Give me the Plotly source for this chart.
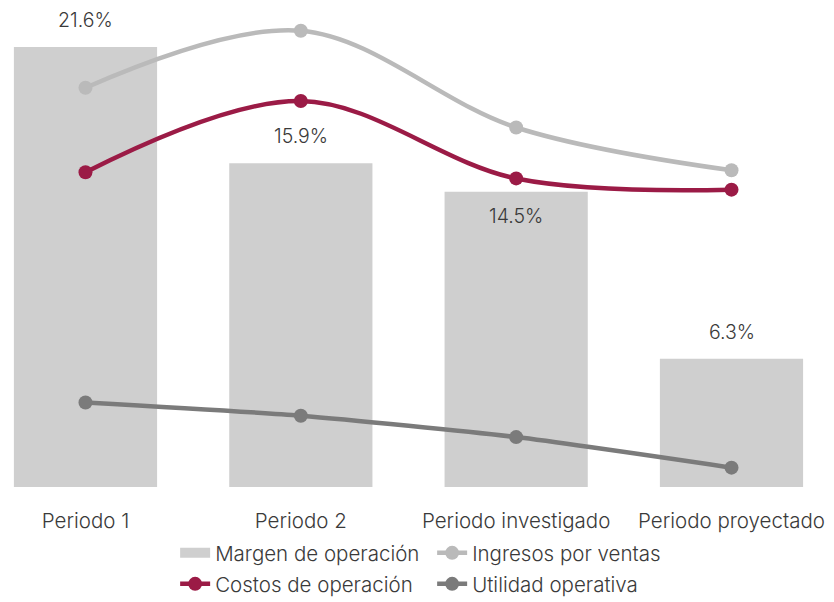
import plotly.graph_objects as go

categorias = ["Periodo 1", "Periodo 2", "Periodo investigado", "Periodo proyectado"]
margen = [21.6, 15.9, 14.5, 6.3]
ingresos = [19.6, 22.4, 17.65, 15.55]
costos = [15.45, 18.95, 15.15, 14.6]
utilidad = [4.15, 3.5, 2.45, 0.95]
etiquetas = ["21.6%", "15.9%", "14.5%", "6.3%"]
posicion_etiqueta = ["arriba", "arriba", "dentro", "arriba"]

FAM = "Inter, Lato, sans-serif"
TXT = "#3a3a3a"
FONT = dict(family=FAM, size=20.5, color=TXT, weight=300)

fig = go.Figure()
fig.add_trace(go.Bar(
    x=categorias, y=margen, name="Margen de operación",
    marker=dict(color="#cfcfcf", line=dict(width=0)), width=0.665,
    showlegend=False, hoverinfo="skip",
))
# legend-only entry to show a wide grey block for the bars
fig.add_trace(go.Scatter(
    x=[None], y=[None], name="Margen de operación", mode="lines",
    line=dict(color="#cfcfcf", width=14), legend="legend",
))
fig.add_trace(go.Scatter(
    x=categorias, y=ingresos, name="Ingresos por ventas", mode="lines+markers",
    line=dict(color="#bababa", width=4.5, shape="spline", smoothing=1.0),
    marker=dict(size=14, color="#bababa"), legend="legend",
))
fig.add_trace(go.Scatter(
    x=categorias, y=costos, name="Costos de operación", mode="lines+markers",
    line=dict(color="#9b1b46", width=4.5, shape="spline", smoothing=1.0),
    marker=dict(size=14, color="#9b1b46"), legend="legend2",
))
fig.add_trace(go.Scatter(
    x=categorias, y=utilidad, name="Utilidad operativa", mode="lines+markers",
    line=dict(color="#7b7b7b", width=4.5, shape="spline", smoothing=0.6),
    marker=dict(size=14, color="#7b7b7b"), legend="legend2",
))

for c, v, t, p in zip(categorias, margen, etiquetas, posicion_etiqueta):
    fig.add_annotation(x=c, y=v, text=t, showarrow=False,
                       yshift=27 if p == "arriba" else -24,
                       font=dict(family=FAM, size=19.5, color=TXT, weight=300))

leg_common = dict(orientation="h", xanchor="left", yanchor="middle", yref="container",
                  font=dict(family=FAM, size=20.5, color=TXT, weight=300),
                  entrywidth=212, entrywidthmode="pixels", bgcolor="rgba(0,0,0,0)",
                  itemwidth=30, tracegroupgap=0)

fig.update_layout(
    width=834, height=602,
    margin=dict(l=0, r=0, t=0, b=115),
    plot_bgcolor="white", paper_bgcolor="white",
    font=FONT,
    showlegend=True,
    legend=dict(x=0.21, y=1 - 553 / 602, **leg_common),
    legend2=dict(x=0.21, y=1 - 584 / 602, **leg_common),
    xaxis=dict(range=[-0.397, 3.476], showgrid=False, zeroline=False, showline=False,
               ticks="", tickfont=dict(family=FAM, size=20.5, color=TXT, weight=300),
               ticklabelstandoff=19),
    yaxis=dict(range=[0, 23.91], visible=False, showgrid=False, zeroline=False),
    bargap=0.335,
)

fig.write_html("out.html", config={"displayModeBar": False},
               post_script="document.body.style.margin='0';")
